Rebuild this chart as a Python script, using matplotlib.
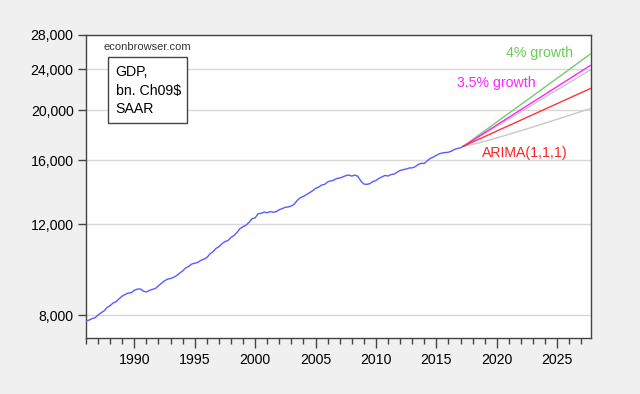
import numpy as np
import matplotlib
matplotlib.use("Agg")
import matplotlib.pyplot as plt
from matplotlib.patches import Rectangle
from matplotlib.ticker import FixedLocator, MultipleLocator, FuncFormatter, NullLocator

plt.rcParams['font.family'] = ['Liberation Sans', 'DejaVu Sans']

# Real GDP, bn. chained 2009 $, SAAR, quarterly 1986Q1 - 2017Q2
gdp_start = 1986.0
gdp = [
    7790, 7820, 7875, 7905,
    8000, 8085, 8150, 8280,
    8345, 8445, 8495, 8610,
    8710, 8775, 8830, 8840,
    8940, 8985, 8990, 8905,
    8870, 8935, 8975, 9010,
    9120, 9225, 9325, 9395,
    9420, 9470, 9545, 9650,
    9745, 9880, 9945, 10050,
    10090, 10125, 10215, 10270,
    10345, 10510, 10615, 10775,
    10860, 11005, 11115, 11160,
    11325, 11420, 11580, 11780,
    11880, 11960, 12115, 12310,
    12360, 12590, 12610, 12680,
    12645, 12710, 12670, 12705,
    12820, 12880, 12960, 12975,
    13030, 13150, 13375, 13530,
    13605, 13715, 13825, 13950,
    14100, 14175, 14310, 14355,
    14515, 14580, 14620, 14740,
    14765, 14840, 14925, 14965,
    14895, 14970, 14880, 14575,
    14375, 14355, 14400, 14540,
    14605, 14745, 14845, 14940,
    14900, 15000, 15030, 15155,
    15275, 15330, 15370, 15445,
    15455, 15535, 15690, 15770,
    15760, 15950, 16125, 16215,
    16350, 16460, 16525, 16550,
    16575, 16660, 16780, 16850,
    16905, 17030,
]

# Forecast paths (2017Q2 .. 2027Q4)
fc_years = [2017.25, 2018.25, 2019.25, 2020.25, 2021.25, 2022.25, 2023.25,
            2024.25, 2025.25, 2026.25, 2027.25, 2027.75]
growth4 = [17030, 17711, 18420, 19157, 19923, 20720, 21549, 22411, 23307,
           24239, 25209, 25712]
growth35 = [17030, 17626, 18243, 18882, 19543, 20226, 20934, 21667, 22425,
            23210, 24022, 24444]
arima = [17030, 17453, 17887, 18332, 18788, 19255, 19733, 20224, 20727,
         21242, 21770, 22039]
arima_hi = [17030, 17592, 18173, 18772, 19392, 20032, 20693, 21376, 22081,
            22810, 23562, 23948]
arima_lo = [17030, 17217, 17468, 17740, 18028, 18327, 18637, 18958, 19289,
            19628, 19977, 20154]

y_ticks = [8000, 12000, 16000, 20000, 24000, 28000]

W, H = 640, 394
bg = '#f0f0f0'
fig = plt.figure(figsize=(W/100, H/100), dpi=100, facecolor=bg)
ax = fig.add_axes([86/W, 1-338/H, (591-86)/W, (338-35)/H])
ax.set_facecolor('white')

def fx(px):
    return px / W

def fy(py):
    return 1 - py / H

x_gdp = gdp_start + np.arange(len(gdp)) / 4.0

ax.set_yscale('log')
ax.set_ylim(7220, 28000)
ax.set_xlim(1986.0, 2027.8)

for yt in y_ticks:
    ax.axhline(yt, color='#d8d8d8', lw=1.0, zorder=0)

ax.plot(fc_years, arima_lo, color='#c8c8c8', lw=1.0, zorder=2)
ax.plot(fc_years, arima_hi, color='#c8c8c8', lw=1.0, zorder=2)
ax.plot(fc_years, growth4, color='#77cc66', lw=1.0, zorder=3)
ax.plot(fc_years, growth35, color='#ff22ff', lw=1.0, zorder=4)
ax.plot(fc_years, arima, color='#ff3333', lw=1.0, zorder=4)
ax.plot(x_gdp, gdp, color='#5a5aff', lw=1.0, zorder=5)

ax.yaxis.set_major_locator(FixedLocator(y_ticks))
ax.yaxis.set_minor_locator(NullLocator())
ax.yaxis.set_major_formatter(FuncFormatter(lambda v, p: f"{int(round(v)):,}"))
ax.xaxis.set_major_locator(MultipleLocator(5))
ax.xaxis.set_minor_locator(MultipleLocator(1))
ax.xaxis.set_major_formatter(FuncFormatter(lambda v, p: f"{int(round(v))}"))

ax.tick_params(axis='y', which='major', direction='out', length=6, width=1,
               color='#444444', labelsize=10.2, pad=3)
ax.tick_params(axis='x', which='major', direction='out', length=7, width=1,
               color='#444444', labelsize=10.2, pad=4)
ax.tick_params(axis='x', which='minor', direction='out', length=4, width=1,
               color='#444444')
for s in ax.spines.values():
    s.set_color('#444444')
    s.set_linewidth(1.0)

fs = 10.2
fig.text(fx(506), fy(57.5), '4% growth', color='#66cc55', fontsize=fs,
         va='baseline', ha='left')
fig.text(fx(457), fy(87), '3.5% growth', color='#ff22ff', fontsize=fs,
         va='baseline', ha='left')
fig.text(fx(482), fy(157), 'ARIMA(1,1,1)', color='#ff2222', fontsize=fs,
         va='baseline', ha='left')
fig.text(fx(103.5), fy(50), 'econbrowser.com', fontsize=8, color='#333333',
         va='baseline', ha='left')

box = Rectangle((fx(107.5), fy(123)), fx(186.5) - fx(107.5), fy(57.5) - fy(123),
                transform=fig.transFigure, fc='white', ec='#444444', lw=1,
                zorder=10)
fig.add_artist(box)
for txt, base in zip(['GDP,', 'bn. Ch09$', 'SAAR'], [76, 94.5, 113.3]):
    t = fig.text(fx(115.5), fy(base), txt, fontsize=fs, color='black',
                 va='baseline', ha='left')
    t.set_zorder(11)

fig.savefig('out.png', dpi=100, facecolor=bg)
